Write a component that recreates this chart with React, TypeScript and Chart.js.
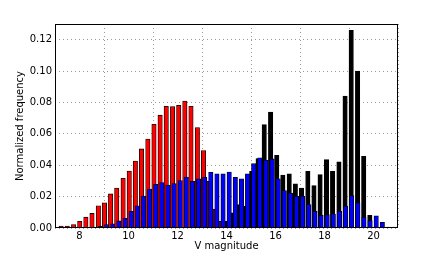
import React, { useEffect, useRef } from "react";
import { Chart, registerables } from "chart.js";

Chart.register(...registerables);

// Bin centres (V magnitude) and normalized frequencies
const redCenters = [7.25, 7.5, 7.76, 8.01, 8.26, 8.51, 8.77, 9.02, 9.27, 9.52, 9.78, 10.03, 10.28, 10.53, 10.79, 11.04, 11.29, 11.54, 11.8, 12.05, 12.3, 12.55, 12.81, 13.06];
const redValues = [0.0012, 0.0013, 0.0022, 0.0043, 0.0069, 0.0093, 0.0142, 0.016, 0.0217, 0.0255, 0.0317, 0.0363, 0.0426, 0.0504, 0.0567, 0.0661, 0.0719, 0.0776, 0.0773, 0.0782, 0.0809, 0.0775, 0.064, 0.0493];

const blueCenters = [8.61, 8.86, 9.11, 9.36, 9.61, 9.86, 10.11, 10.36, 10.61, 10.86, 11.11, 11.36, 11.61, 11.86, 12.11, 12.36, 12.61, 12.86, 13.11, 13.36, 13.61, 13.86, 14.11, 14.36, 14.61, 14.86, 15.11, 15.36, 15.61, 15.86, 16.11, 16.36, 16.61, 16.86, 17.11, 17.36, 17.61, 17.86, 18.11, 18.36, 18.61, 18.86, 19.11, 19.36, 19.61, 19.86, 20.11, 20.36, 20.61, 20.86];
const blueValues = [0.0004, 0.001, 0.0022, 0.0027, 0.0045, 0.0062, 0.0106, 0.0142, 0.0204, 0.0248, 0.0278, 0.0289, 0.0274, 0.0283, 0.0302, 0.0325, 0.0298, 0.0313, 0.0323, 0.0355, 0.0345, 0.0345, 0.0357, 0.0323, 0.0313, 0.0345, 0.041, 0.0447, 0.0432, 0.044, 0.0313, 0.0238, 0.0223, 0.0202, 0.0202, 0.0149, 0.0106, 0.008, 0.0085, 0.0089, 0.0106, 0.0138, 0.0206, 0.016, 0.0068, 0.0047, 0.0078, 0.0036, 0.0006, 0.0006];

const blackCenters = [13.26, 13.51, 13.77, 14.02, 14.27, 14.53, 14.78, 15.03, 15.29, 15.54, 15.8, 16.05, 16.3, 16.56, 16.81, 17.06, 17.32, 17.57, 17.82, 18.08, 18.33, 18.59, 18.84, 19.09, 19.35, 19.6, 19.85];
const blackValues = [0.0298, 0.0121, 0.0042, 0.0042, 0.0096, 0.0149, 0.0138, 0.0361, 0.0442, 0.0659, 0.0738, 0.0463, 0.0338, 0.0345, 0.0281, 0.0255, 0.0361, 0.027, 0.034, 0.0436, 0.0361, 0.0421, 0.084, 0.1259, 0.1, 0.0457, 0.008];

const xTicks = [8, 10, 12, 14, 16, 18, 20];
const yTicks = [0, 0.02, 0.04, 0.06, 0.08, 0.1, 0.12];

const toPoints = (xs: number[], ys: number[]) => xs.map((x, i) => ({ x, y: ys[i] }));

const FONT = "'DejaVu Sans', sans-serif";

export default function App() {
  const ref = useRef<HTMLCanvasElement | null>(null);

  useEffect(() => {
    document.body.style.margin = "0";
    const canvas = ref.current;
    if (!canvas) return;

    const framePlugin = {
      id: "frame",
      afterDatasetsDraw(chart: any) {
        const { ctx, chartArea } = chart;
        ctx.save();
        ctx.strokeStyle = "#000";
        ctx.lineWidth = 1;
        ctx.strokeRect(
          Math.round(chartArea.left) + 0.5,
          Math.round(chartArea.top) + 0.5,
          Math.round(chartArea.right - chartArea.left) - 1,
          Math.round(chartArea.bottom - chartArea.top) - 1
        );
        ctx.restore();
      },
    };

    const common = {
      grouped: false,
      barThickness: 4.4,
      borderColor: "#000",
      borderWidth: 0.8,
    };

    const chart = new Chart(canvas, {
      type: "bar",
      data: {
        datasets: [
          {
            ...common,
            label: "blue",
            data: toPoints(blueCenters, blueValues),
            backgroundColor: "#0000ff",
          },
          {
            ...common,
            label: "red",
            data: toPoints(redCenters, redValues),
            backgroundColor: "#ff0000",
          },
          {
            ...common,
            label: "black",
            data: toPoints(blackCenters, blackValues),
            backgroundColor: (c: any) =>
              c.raw && c.raw.x < 13.9 ? "#5a1010" : "#000000",
          },
        ] as any,
      },
      options: {
        animation: false,
        responsive: false,
        maintainAspectRatio: false,
        devicePixelRatio: 1,
        layout: { padding: { left: 0, top: 24, right: 45, bottom: 0 } },
        plugins: { legend: { display: false }, tooltip: { enabled: false } },
        scales: {
          x: {
            type: "linear",
            min: 7,
            max: 21,
            offset: false,
            afterFit: (s: any) => {
              s.height = 25;
            },
            afterBuildTicks: (s: any) => {
              s.ticks = xTicks.map((v) => ({ value: v }));
            },
            ticks: {
              color: "#000",
              font: { family: FONT, size: 10 },
              padding: 2,
              maxRotation: 0,
              callback: (v: any) => String(v),
            },
            grid: {
              color: "#9a9a9a",
              lineWidth: 1,
              drawTicks: false,
              tickBorderDash: [1, 3],
            } as any,
            border: { display: false, dash: [1, 3] } as any,
            title: {
              display: true,
              text: "V magnitude",
              color: "#000",
              font: { family: FONT, size: 10 },
              padding: { top: 0, bottom: 1 },
            },
          },
          y: {
            type: "linear",
            min: 0,
            max: 0.13,
            afterFit: (s: any) => {
              s.width = 55;
            },
            afterBuildTicks: (s: any) => {
              s.ticks = yTicks.map((v) => ({ value: v }));
            },
            ticks: {
              color: "#000",
              font: { family: FONT, size: 10 },
              padding: 3,
              callback: (v: any) => Number(v).toFixed(2),
            },
            grid: {
              color: "#9a9a9a",
              lineWidth: 1,
              drawTicks: false,
            },
            border: { display: false, dash: [1, 3] } as any,
            title: {
              display: true,
              text: "Normalized frequency",
              color: "#000",
              font: { family: FONT, size: 10 },
              padding: { top: 14, bottom: 0 },
            },
          },
        },
      } as any,
      plugins: [framePlugin],
    });

    // dotted grid lines
    (chart.options.scales as any).x.grid.borderDash = [1, 3];
    chart.update();

    return () => chart.destroy();
  }, []);

  return (
    <div style={{ width: 443, height: 253, position: "relative" }}>
      <canvas ref={ref} width={443} height={253} />
    </div>
  );
}
